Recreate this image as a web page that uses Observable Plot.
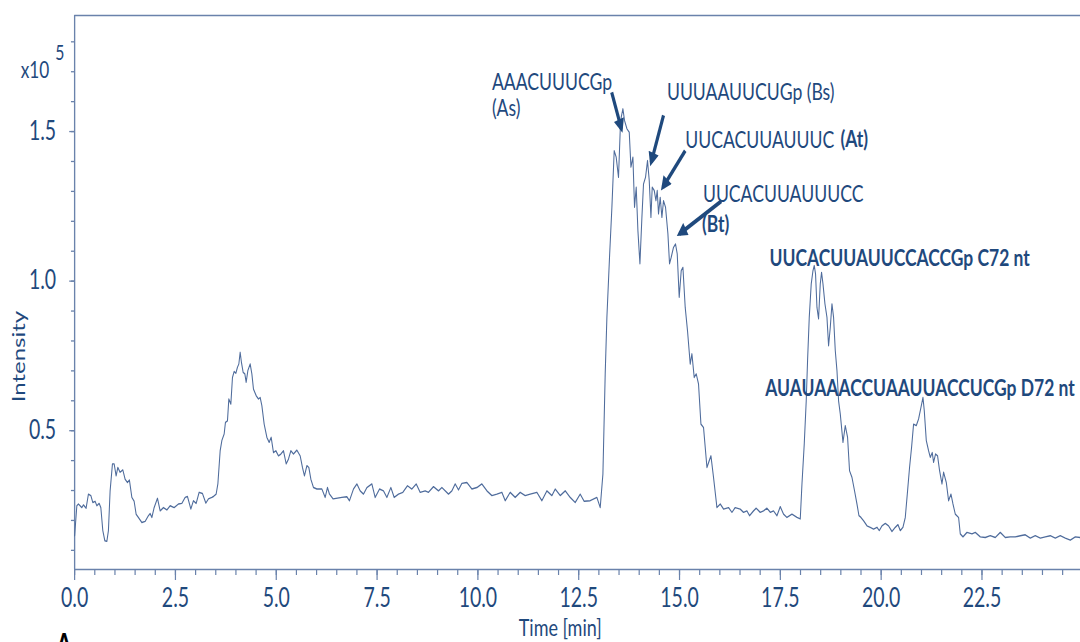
<!DOCTYPE html>
<html>
<head>
<meta charset="utf-8">
<script src="https://cdn.jsdelivr.net/npm/d3@7"></script>
<script src="https://cdn.jsdelivr.net/npm/@observablehq/plot@0.6"></script>
<style>
  html, body { margin: 0; padding: 0; background: #ffffff; overflow: hidden; }
  #chart { width: 1080px; height: 642px; }
</style>
</head>
<body>
<div id="chart"></div>
<script>
// ---------- data (retention time in min, intensity in x10^5) ----------
const retentionTime = [
  0.000,0.055,0.094,0.179,0.218,0.285,0.342,0.402,0.451,0.508,
  0.551,0.608,0.650,0.699,0.749,0.799,0.838,0.880,0.938,0.980,
  1.029,1.071,1.128,1.195,1.252,1.310,1.359,1.419,1.476,1.525,
  1.582,1.667,1.749,1.830,1.873,1.915,1.972,2.054,2.121,2.202,
  2.287,2.369,2.468,2.574,2.659,2.741,2.798,2.882,2.946,3.013,
  3.088,3.170,3.254,3.318,3.403,3.442,3.509,3.552,3.609,3.651,
  3.708,3.740,3.790,3.824,3.874,3.914,3.956,3.998,4.038,4.072,
  4.105,4.137,4.179,4.221,4.254,4.296,4.353,4.395,4.435,4.502,
  4.559,4.601,4.643,4.700,4.767,4.824,4.874,4.931,4.990,5.055,
  5.114,5.179,5.246,5.303,5.362,5.427,5.511,5.593,5.650,5.699,
  5.759,5.808,5.858,5.923,6.007,6.131,6.213,6.270,6.319,6.411,
  6.627,6.751,6.815,6.915,6.999,7.081,7.163,7.247,7.371,7.453,
  7.560,7.659,7.743,7.842,7.924,8.031,8.140,8.254,8.363,8.470,
  8.569,8.693,8.775,8.899,9.023,9.107,9.271,9.355,9.437,9.519,
  9.603,9.727,9.851,9.975,10.099,10.223,10.347,10.471,10.595,10.677,
  10.801,10.925,11.049,11.173,11.297,11.463,11.587,11.711,11.835,11.917,
  12.041,12.165,12.289,12.413,12.537,12.636,12.785,12.951,13.033,13.100,
  13.157,13.199,13.264,13.323,13.380,13.430,13.487,13.529,13.554,13.596,
  13.636,13.696,13.753,13.795,13.844,13.884,13.926,13.968,14.018,14.067,
  14.107,14.157,14.206,14.249,14.291,14.323,14.373,14.415,14.447,14.479,
  14.521,14.563,14.603,14.653,14.712,14.752,14.794,14.851,14.901,14.943,
  14.992,15.042,15.084,15.141,15.198,15.265,15.307,15.364,15.414,15.471,
  15.531,15.595,15.680,15.737,15.779,15.843,15.928,16.010,16.091,16.215,
  16.300,16.381,16.505,16.587,16.671,16.736,16.835,16.902,17.001,17.083,
  17.168,17.250,17.331,17.416,17.498,17.579,17.664,17.788,17.912,17.994,
  18.036,18.093,18.142,18.175,18.217,18.266,18.309,18.341,18.373,18.408,
  18.448,18.490,18.522,18.557,18.606,18.656,18.696,18.738,18.780,18.820,
  18.862,18.904,18.944,18.986,19.053,19.110,19.167,19.216,19.276,19.340,
  19.400,19.449,19.499,19.564,19.648,19.730,19.812,19.896,19.953,20.020,
  20.102,20.184,20.268,20.350,20.417,20.474,20.541,20.598,20.655,20.704,
  20.754,20.804,20.871,20.928,20.987,21.037,21.069,21.119,21.176,21.218,
  21.267,21.300,21.349,21.399,21.449,21.508,21.548,21.615,21.672,21.731,
  21.781,21.838,21.920,21.962,22.029,22.128,22.252,22.334,22.458,22.582,
  22.706,22.830,22.954,23.078,23.202,23.326,23.450,23.574,23.698,23.822,
  23.946,24.070,24.194,24.318,24.442,24.566,24.690,24.814,24.938
];
const intensity = [
  0.149,0.249,0.255,0.243,0.252,0.241,0.288,0.283,0.260,0.264,
  0.249,0.257,0.243,0.166,0.132,0.130,0.166,0.299,0.389,0.389,
  0.349,0.377,0.361,0.369,0.338,0.327,0.335,0.277,0.264,0.221,
  0.210,0.193,0.197,0.216,0.223,0.210,0.243,0.274,0.232,0.243,
  0.235,0.249,0.243,0.255,0.257,0.277,0.280,0.238,0.266,0.257,
  0.294,0.290,0.258,0.272,0.277,0.280,0.288,0.322,0.433,0.467,
  0.489,0.528,0.533,0.606,0.589,0.678,0.698,0.692,0.712,0.723,
  0.762,0.728,0.695,0.690,0.662,0.701,0.723,0.690,0.639,0.617,
  0.606,0.611,0.584,0.522,0.478,0.461,0.478,0.427,0.433,0.416,
  0.422,0.433,0.389,0.405,0.433,0.422,0.435,0.416,0.377,0.349,
  0.383,0.377,0.338,0.310,0.305,0.305,0.277,0.310,0.288,0.272,
  0.277,0.279,0.266,0.305,0.322,0.299,0.288,0.310,0.322,0.277,
  0.305,0.299,0.277,0.310,0.277,0.288,0.294,0.316,0.305,0.322,
  0.294,0.299,0.294,0.313,0.299,0.310,0.288,0.299,0.322,0.302,
  0.324,0.327,0.305,0.310,0.322,0.299,0.283,0.288,0.294,0.266,
  0.294,0.277,0.294,0.283,0.288,0.294,0.266,0.299,0.283,0.305,
  0.283,0.299,0.277,0.260,0.288,0.264,0.266,0.277,0.243,0.355,
  0.690,0.879,1.080,1.247,1.436,1.414,1.347,1.503,1.548,1.576,
  1.537,1.509,1.498,1.381,1.414,1.247,1.314,1.169,1.058,1.213,
  1.325,1.347,1.403,1.336,1.213,1.314,1.303,1.269,1.303,1.225,
  1.280,1.213,1.269,1.247,1.158,1.058,1.080,1.113,1.124,1.091,
  0.946,1.035,1.046,0.912,0.834,0.723,0.757,0.678,0.690,0.656,
  0.522,0.511,0.377,0.400,0.416,0.344,0.243,0.255,0.238,0.243,
  0.227,0.243,0.238,0.227,0.232,0.216,0.232,0.241,0.227,0.232,
  0.241,0.227,0.232,0.216,0.246,0.221,0.210,0.221,0.210,0.205,
  0.322,0.456,0.600,0.734,0.879,0.991,1.035,1.052,1.024,0.912,
  0.874,0.991,1.029,0.991,0.924,0.879,0.784,0.845,0.924,0.879,
  0.768,0.701,0.600,0.556,0.461,0.517,0.478,0.366,0.344,0.299,
  0.255,0.216,0.210,0.199,0.182,0.177,0.171,0.177,0.166,0.182,
  0.190,0.182,0.163,0.177,0.186,0.166,0.177,0.210,0.299,0.377,
  0.444,0.522,0.517,0.539,0.578,0.611,0.567,0.467,0.433,0.411,
  0.427,0.394,0.422,0.416,0.366,0.322,0.361,0.327,0.266,0.288,
  0.255,0.221,0.210,0.155,0.145,0.160,0.155,0.160,0.145,0.143,
  0.149,0.143,0.160,0.143,0.145,0.145,0.149,0.152,0.141,0.149,
  0.141,0.145,0.149,0.141,0.149,0.141,0.134,0.145,0.143
];

// axis ticks
const xMajorTicks = [0, 2.5, 5, 7.5, 10, 12.5, 15, 17.5, 20, 22.5];
const yMajorTicks = [0.5, 1.0, 1.5];

// annotations: regular-weight labels
const plainText = ["AAACUUUCGp\n(As)", "UUUAAUUCUGp (Bs)", "UUCACUUAUUUC", "UUCACUUAUUUCC"];
const plainTime = [10.347, 14.688, 15.141, 15.580];
const plainInt  = [1.624, 1.633, 1.472, 1.292];
// annotations: bold labels
const boldText = ["(At)", "(Bt)", "UUCACUUAUUCCACCGp C72 nt", "AUAUAAACCUAAUUACCUCGp D72 nt"];
const boldTime = [18.99, 15.556, 17.232, 17.126];
const boldInt  = [1.472, 1.189, 1.075, 0.640];

const arrowTimeFrom = [13.318, 14.603, 15.141, 16.034];
const arrowIntFrom  = [1.631, 1.554, 1.436, 1.267];
const arrowTimeTo   = [13.559, 14.298, 14.588, 15.000];
const arrowIntTo    = [1.509, 1.397, 1.314, 1.158];

// ---------- build ----------
const trace = retentionTime.map((t, i) => ({t, v: intensity[i]}));
const plainLabels = plainText.map((s, i) => ({s, t: plainTime[i], v: plainInt[i]}));
const boldLabels = boldText.map((s, i) => ({s, t: boldTime[i], v: boldInt[i]}));
const arrows = arrowTimeFrom.map((t, i) => ({x1: t, y1: arrowIntFrom[i], x2: arrowTimeTo[i], y2: arrowIntTo[i]}));

const K = 0.75;               // horizontal compression of the original figure
const W = Math.round(1080 / K);
const navy = "#1f497d";
const axisColor = "#6a82ab";
const lineColor = "#4f6c9c";
const xMax = 24.94, yMin = 0.036, yMax = 1.888;

const chart = Plot.plot({
  width: W,
  height: 642,
  marginLeft: 99,
  marginRight: 0,
  marginTop: 15,
  marginBottom: 73,
  x: {domain: [0, xMax]},
  y: {domain: [yMin, yMax]},
  style: {fontFamily: "Lato, 'Open Sans', sans-serif", background: "#ffffff", color: navy},
  marks: [
    Plot.ruleY([yMax], {stroke: axisColor, strokeWidth: 1.3}),
    Plot.ruleY([yMin], {stroke: axisColor, strokeWidth: 1.6}),
    Plot.ruleX([0], {stroke: axisColor, strokeWidth: 1.8}),
    Plot.axisX({ticks: d3.range(0, 50).map(i => i / 2), tickSize: 6, tickFormat: () => "", label: null, stroke: axisColor, strokeWidth: 1.6}),
    Plot.axisX({ticks: xMajorTicks, tickSize: 11, tickPadding: 8, tickFormat: d3.format(".1f"), label: null, stroke: axisColor, strokeWidth: 1.6, fill: navy, fontSize: 26}),
    Plot.axisY({ticks: d3.range(1, 19).map(i => i / 10), tickSize: 4.4, tickFormat: () => "", label: null, stroke: axisColor, strokeWidth: 1.3}),
    Plot.axisY({ticks: yMajorTicks, tickSize: 6.7, tickPadding: 18, tickFormat: d3.format(".1f"), label: null, stroke: axisColor, strokeWidth: 1.3, fill: navy, fontSize: 26}),
    Plot.line(trace, {x: "t", y: "v", stroke: lineColor, strokeWidth: 1.4, curve: "linear"}),
    Plot.link(arrows, {x1: "x1", y1: "y1", x2: "x2", y2: "y2", stroke: navy, strokeWidth: 4.2}),
    Plot.text(plainLabels, {x: "t", y: "v", text: "s", textAnchor: "start", lineAnchor: "middle", lineHeight: 1.1, fill: navy, fontSize: 23.5}),
    Plot.text(boldLabels, {x: "t", y: "v", text: "s", textAnchor: "start", lineAnchor: "middle", fontWeight: "bold", fill: navy, fontSize: 23.3}),
    Plot.text(["x10"], {text: d => d, frameAnchor: "top-left", dx: -72, dy: 55, textAnchor: "start", lineAnchor: "middle", fill: navy, fontSize: 23}),
    Plot.text(["5"], {text: d => d, frameAnchor: "top-left", dx: -26, dy: 38, textAnchor: "start", lineAnchor: "middle", fill: navy, fontSize: 21}),
    Plot.text(["Intensity"], {text: d => d, frameAnchor: "left", dx: -74, dy: 64, rotate: -90, textAnchor: "middle", lineAnchor: "middle", fill: navy, fontSize: 24}),
    Plot.text(["Time [min]"], {text: d => d, frameAnchor: "bottom", dx: -23, dy: 59, textAnchor: "middle", lineAnchor: "middle", fill: navy, fontSize: 24}),
    Plot.text(["A"], {text: d => d, frameAnchor: "bottom-left", dx: -14, dy: 64, textAnchor: "middle", lineAnchor: "top", fill: "#000000", fontWeight: "bold", fontSize: 30})
  ]
});

// filled triangular arrow heads
const ns = "http://www.w3.org/2000/svg";
const defs = document.createElementNS(ns, "defs");
const marker = document.createElementNS(ns, "marker");
marker.setAttribute("id", "tri-head");
marker.setAttribute("viewBox", "0 0 10 10");
marker.setAttribute("refX", "7");
marker.setAttribute("refY", "5");
marker.setAttribute("markerWidth", "17");
marker.setAttribute("markerHeight", "14");
marker.setAttribute("markerUnits", "userSpaceOnUse");
marker.setAttribute("orient", "auto");
const head = document.createElementNS(ns, "path");
head.setAttribute("d", "M0,0L10,5L0,10Z");
head.setAttribute("fill", navy);
marker.appendChild(head);
defs.appendChild(marker);
chart.insertBefore(defs, chart.firstChild);
chart.querySelectorAll('g[aria-label="link"] path').forEach(p => p.setAttribute("marker-end", "url(#tri-head)"));

// reproduce the figure's horizontally compressed aspect
chart.setAttribute("width", 1080);
chart.setAttribute("height", 642);
chart.setAttribute("preserveAspectRatio", "none");
chart.style.width = "1080px";
chart.style.height = "642px";
chart.style.maxWidth = "none";
document.getElementById("chart").appendChild(chart);
</script>
</body>
</html>
